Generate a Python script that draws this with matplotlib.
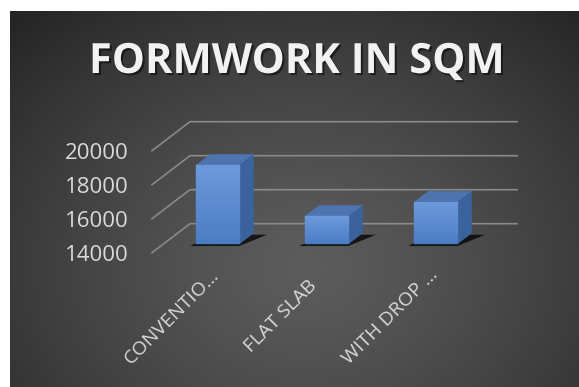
import numpy as np
import matplotlib
matplotlib.use("Agg")
import matplotlib.pyplot as plt
from matplotlib.patches import Polygon
from matplotlib.lines import Line2D
from matplotlib import patheffects
from matplotlib.transforms import IdentityTransform, ScaledTranslation
from matplotlib.colors import to_rgb

categories = ["CONVENTIO\u2026", "FLAT SLAB", "WITH DROP \u2026"]
formwork_sqm = [18650, 15650, 16480]
y_ticks = [14000, 16000, 18000, 20000]
chart_title = "FORMWORK IN SQM"

W, H, DPI = 579, 387, 100
DEPTH = np.array([38.0, 29.0])   # px offset front -> back wall
BAR_Z0, BAR_Z1 = 0.30, 0.67
BAR_W = 0.40
FONT = "Open Sans"

fig = plt.figure(figsize=(W / DPI, H / DPI), dpi=DPI)
fig.patch.set_facecolor("white")

# dark radial background panel
bg = fig.add_axes([10 / W, 0, 1 - 10 / W, (H - 11) / H])
yy, xx = np.mgrid[0:1:300j, 0:1:400j]
r = np.sqrt(((xx - 0.52) / 0.78) ** 2 + ((yy - 0.68) / 0.95) ** 2)
shade = (92 - 58 * np.clip(r, 0, 1) ** 1.3) / 255.0
bg.imshow(np.dstack([shade] * 3), aspect="auto", extent=[0, 1, 0, 1], origin="upper")
bg.set_axis_off()

ax = fig.add_axes([152 / W, (H - 252.7) / H, 327 / W, 102 / H])
ax.set_xlim(-0.5, 2.5)
ax.set_ylim(14000, 20000)
ax.patch.set_visible(False)
for s in ax.spines.values():
    s.set_visible(False)
ax.set_xticks([])
ax.set_yticks(y_ticks)
ax.set_yticklabels([str(t) for t in y_ticks], fontsize=16, color="#d9d9d9", family=FONT)
ax.tick_params(axis="y", length=0, pad=17)


def project(x, y, z):
    pts = ax.transData.transform(np.column_stack([x, y]))
    return pts + np.outer(np.broadcast_to(z, len(pts)), DEPTH)


def poly(pts, color, z, alpha=1.0):
    fig.add_artist(Polygon(pts, closed=True, facecolor=color, edgecolor="none",
                           alpha=alpha, transform=IdentityTransform(), zorder=z))


# walls: back gridlines + left slanted lines
for t in y_ticks:
    pts = np.vstack([project([-0.5], [t], 0), project([-0.5, 2.5], [t, t], 1)])
    fig.add_artist(Line2D(pts[:, 0], pts[:, 1], color="#8a8a8a", lw=1.2,
                          transform=IdentityTransform(), zorder=2))

front_top = np.array(to_rgb("#6d99dc"))
front_bot = np.array(to_rgb("#4a7cc4"))
base = y_ticks[0]
for i, v in enumerate(formwork_sqm):
    x0, x1 = i - BAR_W / 2, i + BAR_W / 2
    # shadow on floor
    sh = np.vstack([project([x0 - 0.03, x1 + 0.02], [base, base], BAR_Z0 - 0.07),
                    project([x1 + 0.14, x0 + 0.05], [base, base], BAR_Z1 - 0.05)])
    poly(sh, "black", 3, alpha=0.75)
    # side face
    side = np.vstack([project([x1, x1], [base, v], BAR_Z0),
                      project([x1, x1], [v, base], BAR_Z1)])
    poly(side, "#3a629c", 4)
    # top face
    top = np.vstack([project([x0, x1], [v, v], BAR_Z0),
                     project([x1, x0], [v, v], BAR_Z1)])
    poly(top, "#4d74ae", 4)
    # front face with vertical gradient
    levels = np.linspace(base, v, 41)
    for k in range(40):
        f = (k + 0.5) / 40
        c = front_bot * (1 - f) + front_top * f
        strip = project([x0, x1, x1, x0], [levels[k], levels[k], levels[k + 1], levels[k + 1]], BAR_Z0)
        fig.add_artist(Polygon(strip, closed=True, facecolor=c, edgecolor=c, lw=0.3,
                               transform=IdentityTransform(), zorder=5))

# category labels
lab_off = ScaledTranslation(-34.5 / DPI, -64 / DPI, fig.dpi_scale_trans)
for i, cat in enumerate(categories):
    ax.text(i, base, cat, rotation=45, ha="center", va="center", fontsize=14,
            color="#d9d9d9", family=FONT, transform=ax.transData + lab_off, clip_on=False)

fig.text(296.5 / W, (H - 73) / H, chart_title, ha="center", va="baseline",
         fontsize=30, fontweight="bold", color="#f2f2f2", family=FONT,
         path_effects=[patheffects.withSimplePatchShadow(offset=(1.5, -1.5), shadow_rgbFace="black", alpha=0.5)])

fig.savefig("out.png", dpi=DPI)
